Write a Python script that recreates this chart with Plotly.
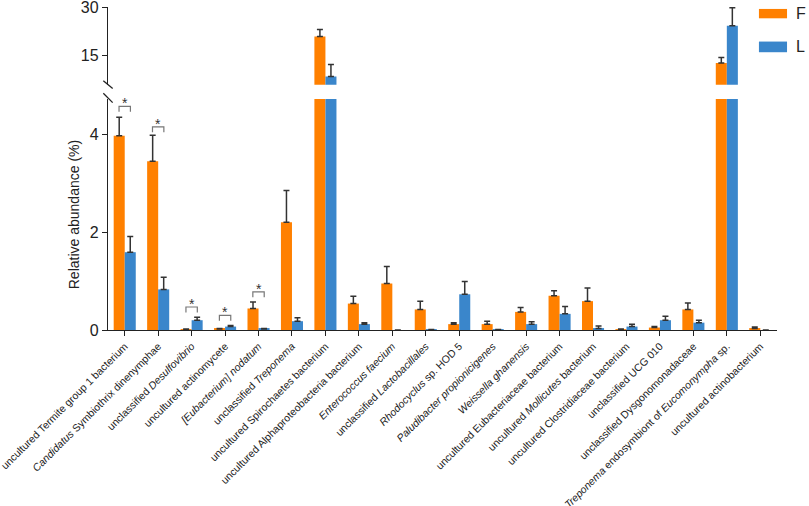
import plotly.graph_objects as go
from plotly.subplots import make_subplots

categories = [
    "uncultured Termite group 1 bacterium",
    "<i>Candidatus</i> Symbiothrix dinenymphae",
    "unclassified <i>Desulfovibrio</i>",
    "uncultured actinomycete",
    "<i>[Eubacterium] nodatum</i>",
    "unclassified <i>Treponema</i>",
    "uncultured Spirochaetes bacterium",
    "uncultured Alphaproteobacteria bacterium",
    "<i>Enterococcus faecium</i>",
    "unclassified <i>Lactobacillales</i>",
    "<i>Rhodocyclus</i> sp. HOD 5",
    "<i>Paludibacter propionicigenes</i>",
    "<i>Weissella ghanensis</i>",
    "uncultured Eubacteriaceae bacterium",
    "uncultured <i>Mollicutes</i> bacterium",
    "uncultured Clostridiaceae bacterium",
    "unclassified UCG 010",
    "unclassified Dysgonomonadaceae",
    "<i>Treponema</i> endosymbiont of <i>Eucomonympha</i> sp.",
    "uncultured actinobacterium",
]

f_mean = [3.97, 3.45, 0.01, 0.02, 0.44, 2.20, 20.9, 0.54, 0.95, 0.42,
          0.12, 0.12, 0.37, 0.70, 0.59, 0.01, 0.05, 0.42, 12.7, 0.03]
f_err = [0.38, 0.53, 0.01, 0.01, 0.13, 0.65, 2.2, 0.15, 0.35, 0.17,
         0.03, 0.06, 0.09, 0.10, 0.27, 0.01, 0.02, 0.13, 1.7, 0.03]
l_mean = [1.59, 0.83, 0.20, 0.07, 0.02, 0.18, 8.6, 0.12, 0.0, 0.01,
          0.73, 0.01, 0.12, 0.33, 0.03, 0.07, 0.20, 0.15, 24.2, 0.0]
l_err = [0.32, 0.25, 0.06, 0.02, 0.01, 0.07, 3.65, 0.03, None, None,
         0.26, None, 0.05, 0.15, 0.05, 0.05, 0.08, 0.05, 5.6, None]

# significance brackets (category index, bracket height)
sig_idx = [0, 1, 2, 3, 4]
sig_y = [4.57, 4.15, 0.47, 0.30, 0.78]

ORANGE = "#FF8000"
BLUE = "#3A86CB"
FONT = "Arial, Liberation Sans, sans-serif"

fig = make_subplots(rows=2, cols=1, shared_xaxes=True)

x = list(range(len(categories)))
for row in [1, 2]:
    fig.add_trace(go.Bar(x=x, y=f_mean, name='F', marker=dict(color=ORANGE, line=dict(width=0)),
                         error_y=dict(type='data', symmetric=False, array=f_err, arrayminus=[0] * len(x),
                                      color='#333333', thickness=1.5, width=3),
                         showlegend=False), row=row, col=1)
    fig.add_trace(go.Bar(x=x, y=l_mean, name='L', marker=dict(color=BLUE, line=dict(width=0)),
                         error_y=dict(type='data', symmetric=False, array=l_err, arrayminus=[0] * len(x),
                                      color='#333333', thickness=1.5, width=3),
                         showlegend=False), row=row, col=1)

# brackets + stars
for i, yv in zip(sig_idx, sig_y):
    fig.add_shape(type='path', xref='x2', yref='y2',
                  path=f"M {i-0.17},{yv-0.11} L {i-0.17},{yv} L {i+0.17},{yv} L {i+0.17},{yv-0.11}",
                  line=dict(color='#777777', width=1.2))
    fig.add_annotation(x=i, y=yv, xref='x2', yref='y2', text='*', showarrow=False,
                       yanchor='middle', yshift=3, font=dict(size=14, color='#333333', family=FONT))

# axis break marks
for y0, y1 in [(0.772, 0.748), (0.733, 0.704)]:
    fig.add_shape(type='line', xref='paper', yref='paper', x0=-0.007, x1=0.007, y0=y0, y1=y1,
                  line=dict(color='#222222', width=1.3))

# legend drawn by hand
for (label, color, yt, yb) in [('F', ORANGE, 0.994, 0.965), ('L', BLUE, 0.893, 0.860)]:
    fig.add_shape(type='rect', xref='paper', yref='paper', x0=0.973, x1=1.015, y0=yb, y1=yt,
                  fillcolor=color, line=dict(width=0))
    fig.add_annotation(x=1.026, y=(yt + yb) / 2, xref='paper', yref='paper', text=label,
                       showarrow=False, xanchor='left', yanchor='middle',
                       font=dict(size=16, color='#222222', family=FONT))

axis_style = dict(showline=True, linecolor='#222222', linewidth=1.3, ticks='outside', ticklen=5,
                  tickcolor='#222222', tickwidth=1.3, showgrid=False, zeroline=False, automargin=False,
                  ticklabeloverflow='allow',
                  tickfont=dict(size=16, color='#222222', family=FONT))

fig.update_layout(
    width=809, height=506,
    margin=dict(l=108, r=32, t=7, b=176, autoexpand=False),
    plot_bgcolor='white', paper_bgcolor='white',
    barmode='group', bargap=0.34, bargroupgap=0,
    font=dict(family=FONT, color='#222222'),
    xaxis=dict(domain=[0, 1], showline=False, showticklabels=False, ticks='', showgrid=False,
               range=[-0.5, 19.5], zeroline=False, automargin=False),
    xaxis2=dict(domain=[0, 1], range=[-0.5, 19.5], tickmode='array', tickvals=x, ticktext=categories,
                tickangle=-45, showline=True, linecolor='#222222', linewidth=1.3, ticks='outside',
                ticklen=5, tickcolor='#222222', tickwidth=1.3, showgrid=False, zeroline=False,
                automargin=False, ticklabeloverflow='allow',
                tickfont=dict(size=10.5, color='#222222', family=FONT)),
    yaxis=dict(domain=[0.759, 1], range=[6, 30], tickvals=[15, 30], **axis_style),
    yaxis2=dict(domain=[0, 0.715], range=[0, 4.72], tickvals=[0, 2, 4],
                title=dict(text='Relative abundance (%)', font=dict(size=14, color='#222222', family=FONT),
                           standoff=6),
                **axis_style),
)

# page body has a default 8px margin; drop it so the figure sits at the corner
fig.write_html("out.html", config={'displayModeBar': False},
               post_script="document.body.style.margin='0';")
